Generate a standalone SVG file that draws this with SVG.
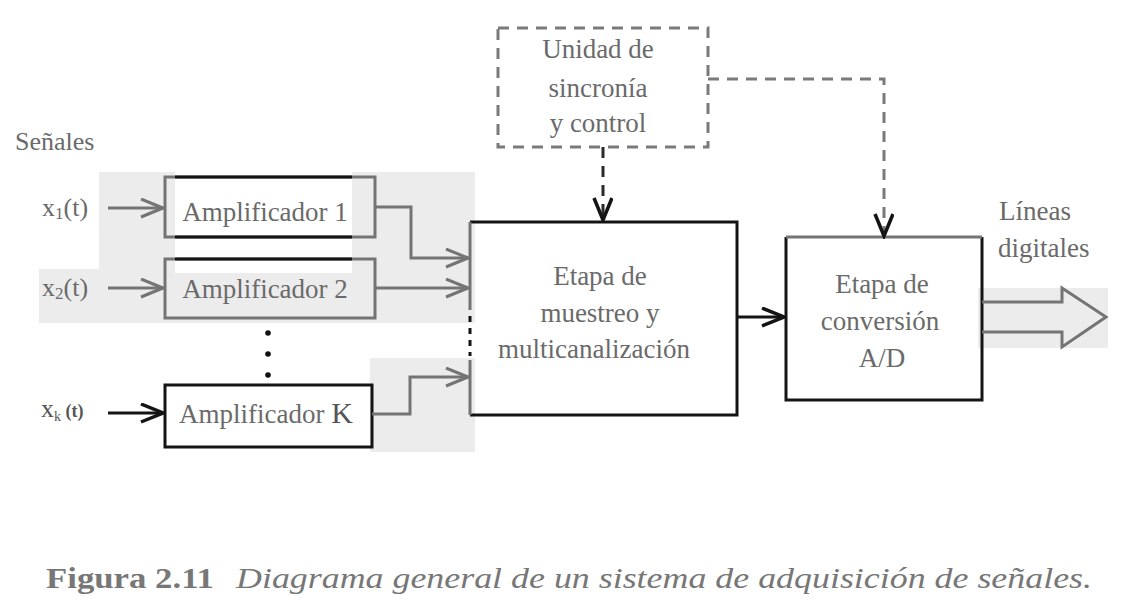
<svg xmlns="http://www.w3.org/2000/svg" width="1122" height="604" viewBox="0 0 1122 604">
<style>
  text { font-family: "Liberation Serif", "Times New Roman", serif; fill: #6a6a6a; }
  .lbl { font-size: 27px; text-anchor: middle; }
  .g { fill: none; stroke: #747474; stroke-width: 3; }
  .k { fill: none; stroke: #141414; stroke-width: 3; }
  .dash { fill: none; stroke: #7a7a7a; stroke-width: 3; stroke-dasharray: 11 8; }
  .dashk { fill: none; stroke: #2a2a2a; stroke-width: 3; stroke-dasharray: 11 8; }
  .patch { fill: #ececec; stroke: none; }
</style>
<defs>
  <marker id="ag" markerUnits="userSpaceOnUse" markerWidth="26" markerHeight="22" refX="23" refY="10" orient="auto">
    <path d="M1,1 L23,10 L1,19" fill="none" stroke="#747474" stroke-width="3"/>
  </marker>
  <marker id="ak" markerUnits="userSpaceOnUse" markerWidth="26" markerHeight="22" refX="23" refY="10" orient="auto">
    <path d="M1,1 L23,10 L1,19" fill="none" stroke="#141414" stroke-width="3.5"/>
  </marker>
</defs>
<rect width="1122" height="604" fill="#ffffff"/>

<g id="background">
  <rect class="patch" x="99" y="172" width="376" height="97"/>
  <rect class="patch" x="39" y="269" width="436" height="54"/>
  <rect x="175" y="172" width="177" height="101" fill="#ffffff"/>
  <rect class="patch" x="370" y="358" width="105" height="94"/>
  <rect class="patch" x="978" y="288" width="130" height="60"/>
</g>

<text x="15" y="150" style="font-size:26px">Señales</text>

<g id="inputs">
  <text x="42" y="216" style="font-size:26px">x<tspan dy="3" style="font-size:17px">1</tspan><tspan dy="-3">(t)</tspan></text>
  <text x="42" y="296" style="font-size:26px">x<tspan dy="3" style="font-size:17px">2</tspan><tspan dy="-3">(t)</tspan></text>
  <text x="41" y="417" style="font-size:26px;fill:#555">x<tspan dy="4" style="font-size:14px">k</tspan><tspan dy="-4" style="font-size:18px;font-weight:bold"> (t)</tspan></text>
</g>

<g id="amp1">
  <rect class="g" x="165" y="177" width="210" height="60"/>
  <line class="k" x1="175" y1="177" x2="352" y2="177" stroke-width="4"/>
  <line class="k" x1="175" y1="237" x2="352" y2="237" stroke-width="4"/>
  <text class="lbl" x="265" y="221">Amplificador 1</text>
</g>
<g id="amp2">
  <rect class="g" x="165" y="259" width="210" height="59"/>
  <line class="k" x1="175" y1="259" x2="352" y2="259" stroke-width="4"/>
  <text class="lbl" x="265" y="298">Amplificador 2</text>
</g>
<g id="ampK">
  <rect class="k" x="165" y="385" width="207" height="62"/>
  <text class="lbl" x="266" y="423">Amplificador <tspan style="font-size:30px;fill:#555">K</tspan></text>
</g>
<g id="ellipsis">
  <circle cx="268" cy="333" r="2.8" fill="#111"/>
  <circle cx="268" cy="354" r="2.8" fill="#111"/>
  <circle cx="268" cy="375" r="2.8" fill="#111"/>
</g>

<g id="sync">
  <rect class="dash" x="498" y="28" width="210" height="119"/>
  <text class="lbl" x="598" y="58">Unidad de</text>
  <text class="lbl" x="598" y="97">sincronía</text>
  <text class="lbl" x="598" y="132">y control</text>
</g>

<g id="mux">
  <path class="k" d="M470,222 H737 V415 H470"/>
  <line class="g" x1="470" y1="222" x2="470" y2="310"/>
  <line class="k" x1="470" y1="316" x2="470" y2="356" stroke-dasharray="6 6"/>
  <line class="g" x1="470" y1="360" x2="470" y2="415"/>
  <text class="lbl" x="600" y="285">Etapa de</text>
  <text class="lbl" x="600" y="322">muestreo y</text>
  <text class="lbl" x="594" y="358">multicanalización</text>
</g>

<g id="adc">
  <path class="k" d="M786,237 V400 H982 V237"/>
  <line class="g" x1="786" y1="237" x2="982" y2="237"/>
  <text class="lbl" x="882" y="293">Etapa de</text>
  <text class="lbl" x="880" y="330">conversión</text>
  <text class="lbl" x="882" y="367">A/D</text>
</g>

<g id="output">
  <polyline class="g" points="982,302 1062,302 1062,288 1106,317 1062,347 1062,332 982,332"/>
  <text x="999" y="220" style="font-size:27px">Líneas</text>
  <text x="998" y="257" style="font-size:27px">digitales</text>
</g>

<g id="connectors">
  <line class="g" x1="108" y1="208" x2="163" y2="208" marker-end="url(#ag)"/>
  <line class="g" x1="108" y1="288" x2="163" y2="288" marker-end="url(#ag)"/>
  <line class="k" x1="108" y1="413" x2="163" y2="413" marker-end="url(#ak)"/>
  <polyline class="g" points="375,207 411,207 411,258 468,258" marker-end="url(#ag)"/>
  <line class="g" x1="375" y1="288" x2="468" y2="288" marker-end="url(#ag)"/>
  <polyline class="g" points="372,414 410,414 410,377 468,377" marker-end="url(#ag)"/>
  <line class="k" x1="737" y1="317" x2="784" y2="317" marker-end="url(#ak)"/>
  <line class="dashk" x1="603" y1="147" x2="603" y2="220" marker-end="url(#ak)"/>
  <polyline class="dash" points="708,79 884,79 884,236" marker-end="url(#ak)"/>
</g>

<g id="caption">
  <text x="46" y="588" style="font-size:29px;font-weight:bold;fill:#777" textLength="168" lengthAdjust="spacingAndGlyphs">Figura 2.11</text>
  <text x="236" y="588" style="font-size:29px;font-style:italic;fill:#777" textLength="856" lengthAdjust="spacingAndGlyphs">Diagrama general de un sistema de adquisición de señales.</text>
</g>
</svg>
